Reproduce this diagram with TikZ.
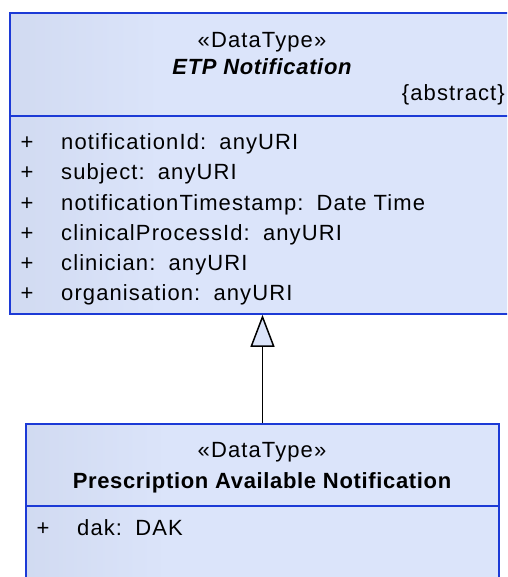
\documentclass[tikz,border=0pt]{standalone}
\usepackage{fontspec}
\setmainfont{Liberation Sans}[LetterSpace=5, BoldFeatures={LetterSpace=3}, BoldItalicFeatures={LetterSpace=3}]
\usetikzlibrary{arrows.meta}
\definecolor{boxlight}{RGB}{219,228,250}
\definecolor{boxdark}{RGB}{192,202,226}
\definecolor{boxedge}{RGB}{28,58,214}
\pgfdeclarehorizontalshading{boxshade}{100bp}{color(0bp)=(boxdark); color(8bp)=(boxdark!80!boxlight); color(40bp)=(boxlight); color(100bp)=(boxlight)}
\tikzset{
  umlbox/.style={draw=boxedge, line width=1.6pt, shading=boxshade, inner sep=0pt},
  divider/.style={draw=boxedge, line width=1.6pt},
  txt/.style={inner sep=0pt, anchor=base},
  attr/.style={inner sep=0pt, anchor=base west},
  plus/.style={inner sep=0pt, anchor=base},
  generalization/.style={draw=black, line width=1.5pt, -{Triangle[length=32pt, width=24pt, fill=boxlight, line width=1.5pt]}}
}
\newcommand{\colsep}{\hspace{0.6em}}
\begin{document}
\begin{tikzpicture}[x=1pt, y=-1pt, font=\fontsize{22}{26}\selectfont]
\useasboundingbox (0,0) rectangle (507,577);
\clip (0,0) rectangle (507,577);
% top class
\node[umlbox, minimum width=502pt, minimum height=301pt] (etp) at (261,163.5) {};
\draw[divider] (etp.west |- 0,116) -- (etp.east |- 0,116);
\node[txt] (etpst) at (262,48) {«DataType»};
\node[txt] (etpname) at (262,75) {\bfseries\itshape ETP Notification};
\node[inner sep=0pt, anchor=base east] (etpabs) at (505,101) {\{abstract\}};
\foreach \n/\y/\t in {a1/150/{notificationId:\colsep anyURI},
                      a2/180/{subject:\colsep anyURI},
                      a3/210/{notificationTimestamp:\colsep Date Time},
                      a4/240/{clinicalProcessId:\colsep anyURI},
                      a5/270/{clinician:\colsep anyURI},
                      a6/300/{organisation:\colsep anyURI}} {
  \node[plus] (p\n) at (27,\y) {+};
  \node[attr] (\n) at (61,\y) {\t};
}
% bottom class
\node[umlbox, minimum width=473pt, minimum height=170pt] (pan) at (262.5,509) {};
\draw[divider] (pan.west |- 0,506) -- (pan.east |- 0,506);
\node[txt] (panst) at (262,457) {«DataType»};
\node[txt] (panname) at (262,488) {\bfseries Prescription Available Notification};
\node[plus] (pb1) at (43,535) {+};
\node[attr] (b1) at (77,535) {dak:\colsep DAK};
% generalization
\draw[generalization] (pan.north) -- (pan.north |- etp.south);
\end{tikzpicture}
\end{document}
